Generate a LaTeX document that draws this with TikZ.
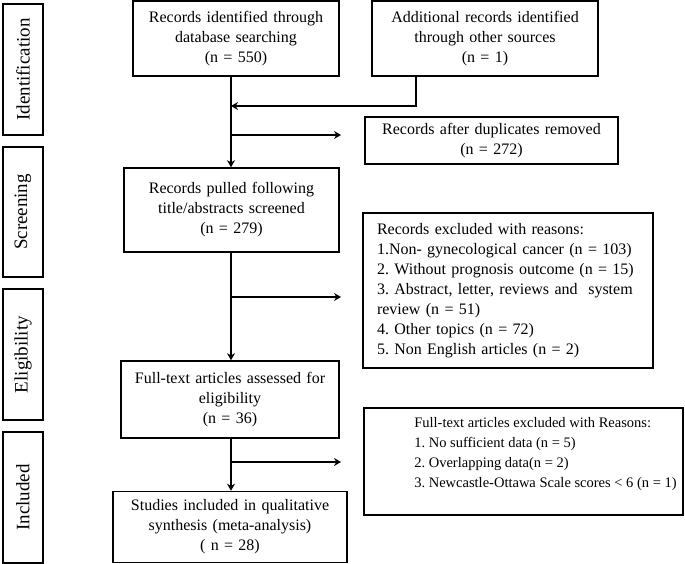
\documentclass[tikz,border=0pt]{standalone}
\usepackage{fontspec}
\setmainfont{Liberation Serif}
\usetikzlibrary{arrows.meta}
\tikzset{
	stage node/.style={draw, line width=1.6pt, rotate=90, minimum height=40, inner sep=0, font=\fontsize{19}{22}\selectfont},
	flow node/.style={draw, line width=1.6pt, align=center, inner sep=2},
	note node/.style={draw, line width=1.6pt, align=left, inner xsep=14, inner ysep=2},
	flow arrow/.style={line width=1.6pt, -{Stealth[length=7pt, width=8pt]}},
}

\begin{document}
\begin{tikzpicture}[x=1pt, y=-1pt, font=\fontsize{16}{20}\selectfont\frenchspacing]

  \useasboundingbox (0,0) rectangle (685,564);

  \node(ident)[stage node, minimum width=131] at (23,69.5) {Identification};
  \node(screen)[stage node, minimum width=130] at (23,212) {Screening};
  \node(elig)[stage node, minimum width=131] at (23,354.5) {Eligibility};
  \node(incl)[stage node, minimum width=131] at (23,497.5) {Included};

  \node(db)[flow node, minimum width=206, minimum height=75, text width=200] at (236,38.5)
    {Records identified through\\database searching\\(n = 550)};
  \node(other)[flow node, minimum width=226, minimum height=75, text width=220] at (485,38.5)
    {Additional records identified\\through other sources\\(n = 1)};
  \node(dup)[flow node, minimum width=253, minimum height=47, text width=247] at (491.5,140.5)
    {Records after duplicates removed\\(n = 272)};
  \node(pulled)[flow node, minimum width=215, minimum height=84, text width=209] at (231.5,210)
    {Records pulled following\\title/abstracts screened\\(n = 279)};
  \node(excl)[note node, minimum width=290, minimum height=155, text width=262] at (508,290.5)
    {Records excluded with reasons:\\1.Non- gynecological cancer (n = 103)\\2. Without prognosis outcome (n = 15)\\3. Abstract, letter, reviews and~ system\\review (n = 51)\\4. Other topics (n = 72)\\5. Non English articles (n = 2)};
  \node(full)[flow node, minimum width=218, minimum height=77, text width=212] at (230,399.5)
    {Full-text articles assessed for\\eligibility\\(n = 36)};
  \node(reasons)[draw, line width=1.6pt, inner sep=2, minimum width=319, minimum height=107,
    font=\fontsize{14.5}{20}\selectfont\frenchspacing] at (523.5,461.5)
    {\hspace*{44pt}\begin{tabular}{@{}l@{}}Full-text articles excluded with Reasons:\\1. No sufficient data (n = 5)\\2. Overlapping data(n = 2)\\3. Newcastle-Ottawa Scale scores < 6 (n = 1)\\[-4pt] ~\end{tabular}};
  \node(studies)[flow node, minimum width=234, minimum height=71, text width=228] at (230,527)
    {Studies included in qualitative\\synthesis (meta-analysis)\\( n = 28)};

  \coordinate (trunk) at (231,0);
  \coordinate (join) at (416,106);
  \coordinate (d1) at (341,135);
  \coordinate (d2) at (341,297);
  \coordinate (d3) at (341,462);

  \draw[flow arrow] (db.south -| trunk) -- (pulled.north -| trunk);
  \draw[flow arrow] (other.south -| join) |- (join -| trunk);
  \draw[flow arrow] (d1 -| trunk) -- (d1);
  \draw[flow arrow] (pulled.south -| trunk) -- (full.north -| trunk);
  \draw[flow arrow] (d2 -| trunk) -- (d2);
  \draw[flow arrow] (full.south -| trunk) -- (studies.north -| trunk);
  \draw[flow arrow] (d3 -| trunk) -- (d3);

\end{tikzpicture}
\end{document}
